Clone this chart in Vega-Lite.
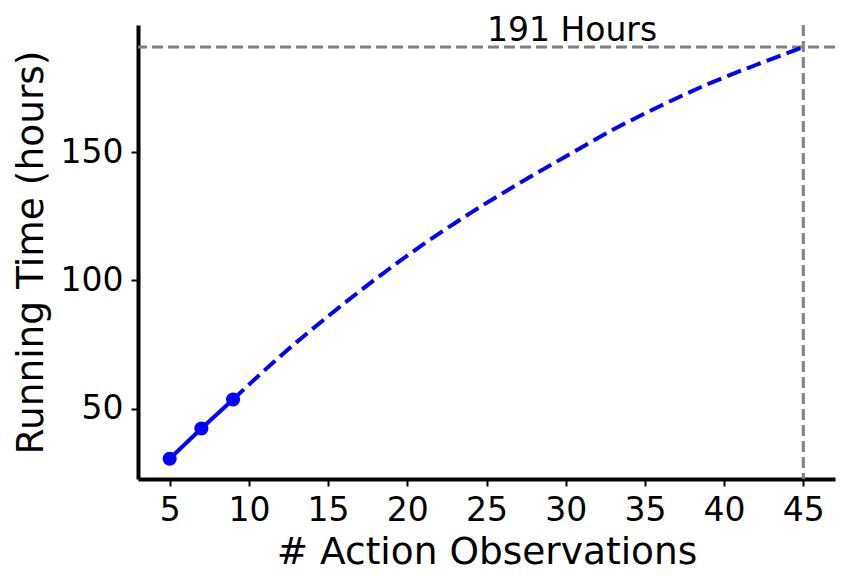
{
  "$schema": "https://vega.github.io/schema/vega-lite/v6.json",
  "autosize": "none",
  "width": 697,
  "height": 454,
  "padding": {"left": 138, "top": 25, "right": 15, "bottom": 108},
  "background": "white",
  "config": {
    "view": {"stroke": null},
    "font": "DejaVu Sans",
    "axis": {
      "grid": false,
      "domainColor": "black",
      "domainWidth": 4,
      "tickColor": "black",
      "tickWidth": 2,
      "tickSize": 7,
      "labelFont": "DejaVu Sans",
      "labelFontSize": 33,
      "labelColor": "black",
      "labelPadding": 8,
      "titleFont": "DejaVu Sans",
      "titleFontSize": 37.5,
      "titleFontWeight": "normal",
      "titleColor": "black"
    }
  },
  "datasets": {
    "observed": [
      {"obs": 5, "hours": 30.4},
      {"obs": 7, "hours": 42.2},
      {"obs": 9, "hours": 53.5}
    ],
    "projected": [
      {"obs": 9, "hours": 53.5},
      {"obs": 12, "hours": 70.5},
      {"obs": 15, "hours": 86.0},
      {"obs": 18, "hours": 100.5},
      {"obs": 21, "hours": 114.0},
      {"obs": 24, "hours": 126.3},
      {"obs": 27, "hours": 137.6},
      {"obs": 30, "hours": 148.3},
      {"obs": 33, "hours": 158.8},
      {"obs": 36, "hours": 168.1},
      {"obs": 39, "hours": 176.6},
      {"obs": 42, "hours": 184.0},
      {"obs": 45, "hours": 191.0}
    ],
    "hline": [{"hours": 191}],
    "vline": [{"obs": 45}],
    "note": [
      {"obs": 30.4, "hours": 193.2, "label": "191 Hours"}
    ]
  },
  "layer": [
    {
      "data": {"name": "hline"},
      "mark": {"type": "rule", "color": "#808080", "strokeWidth": 3, "strokeDash": [11, 5]},
      "encoding": {"y": {"field": "hours", "type": "quantitative"}}
    },
    {
      "data": {"name": "vline"},
      "mark": {"type": "rule", "color": "#808080", "strokeWidth": 3, "strokeDash": [11, 5]},
      "encoding": {"x": {"field": "obs", "type": "quantitative"}}
    },
    {
      "data": {"name": "projected"},
      "mark": {"type": "line", "color": "#0000ff", "strokeWidth": 4, "strokeDash": [14.8, 6.4], "interpolate": "monotone"},
      "encoding": {
        "x": {"field": "obs", "type": "quantitative"},
        "y": {"field": "hours", "type": "quantitative"}
      }
    },
    {
      "data": {"name": "observed"},
      "mark": {"type": "line", "color": "#0000ff", "strokeWidth": 4},
      "encoding": {
        "x": {"field": "obs", "type": "quantitative"},
        "y": {"field": "hours", "type": "quantitative"}
      }
    },
    {
      "data": {"name": "observed"},
      "mark": {"type": "point", "shape": "circle", "filled": true, "color": "#0000ff", "opacity": 1, "size": 200},
      "encoding": {
        "x": {"field": "obs", "type": "quantitative", "scale": {"domain": [3, 47], "nice": false, "zero": false},
              "axis": {"title": "# Action Observations", "values": [5, 10, 15, 20, 25, 30, 35, 40, 45], "titlePadding": 6}},
        "y": {"field": "hours", "type": "quantitative", "scale": {"domain": [22.5, 199.6], "nice": false, "zero": false},
              "axis": {"title": "Running Time (hours)", "values": [50, 100, 150], "titlePadding": 10}}
      }
    },
    {
      "data": {"name": "note"},
      "mark": {"type": "text", "font": "DejaVu Sans", "fontSize": 33, "color": "black", "align": "center", "baseline": "alphabetic"},
      "encoding": {
        "x": {"field": "obs", "type": "quantitative"},
        "y": {"field": "hours", "type": "quantitative"},
        "text": {"field": "label"}
      }
    }
  ]
}
